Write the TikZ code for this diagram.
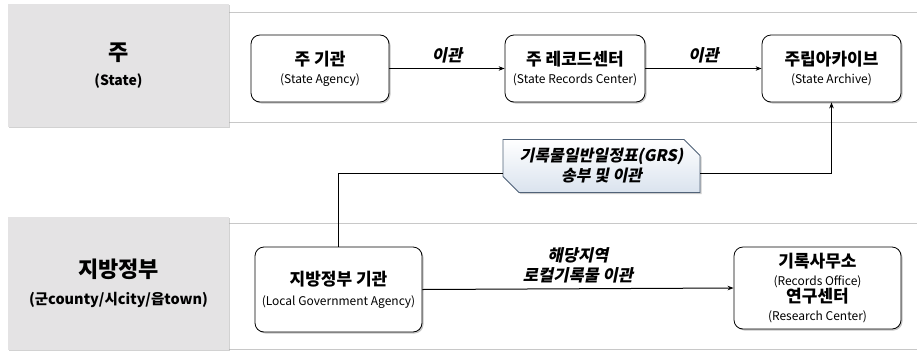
\documentclass[tikz,border=0pt]{standalone}
\usepackage{fontspec}
\setmainfont{Noto Sans CJK KR}
\newfontfamily\slfont{Noto Sans CJK KR}[FakeSlant=0.2]
\usetikzlibrary{shadows,shapes.misc,arrows.meta}
\definecolor{bandgray}{RGB}{228,227,228}
\definecolor{bandline}{RGB}{200,200,200}
\definecolor{grsborder}{RGB}{80,98,120}
\definecolor{grsfill}{RGB}{218,227,238}
\tikzset{
  graybox/.style={fill=bandgray, draw=none, align=center,
    drop shadow={shadow xshift=1.2pt, shadow yshift=-1.2pt, fill=black!35}},
  sepline/.style={draw=bandline, line width=0.8pt},
  agency/.style={draw=black, line width=0.8pt, fill=white, rounded corners=9pt,
    align=center, inner sep=2pt, font=\fontsize{12}{19}\selectfont,
    drop shadow={shadow xshift=1.5pt, shadow yshift=-1.5pt, fill=black!45}},
  grsbox/.style={chamfered rectangle, chamfered rectangle corners={north east,south west},
    chamfered rectangle xsep=7pt, chamfered rectangle ysep=9pt,
    draw=grsborder, line width=0.8pt, top color=white, bottom color=grsfill,
    align=center, inner sep=0pt, font=\slfont\bfseries\fontsize{16}{20}\selectfont,
    drop shadow={shadow xshift=1.5pt, shadow yshift=-1.5pt, fill=black!40}},
  flow/.style={draw=black, line width=1pt, -{Stealth[length=6pt,width=4.5pt]}},
  link/.style={draw=black, line width=1pt},
  lbl/.style={font=\slfont\bfseries\fontsize{16.5}{20}\selectfont, align=center},
}
\newcommand{\ttl}[1]{{\bfseries\fontsize{17}{19}\selectfont #1}}
\newcommand{\sub}[1]{{\fontsize{12}{14}\selectfont #1}}
\begin{document}
\begin{tikzpicture}[x=1pt,y=-1pt]
\useasboundingbox (0,0) rectangle (917,351);
% band lines
\draw[sepline] (229,12) -- (917,12);
\draw[sepline] (229,122) -- (917,122);
\draw[sepline] (229,223) -- (917,223);
\draw[sepline] (229,349) -- (917,349);
% gray band headers
\node[graybox, minimum width=221pt, minimum height=123pt, font=\bfseries\fontsize{14}{25}\selectfont] (state) at (118.5,65.5)
  {{\fontsize{22}{25}\selectfont 주}\\ (State)};
\node[graybox, minimum width=221pt, minimum height=133pt, font=\bfseries\fontsize{14.5}{27}\selectfont] (local) at (118.5,283.5)
  {{\fontsize{22}{25}\selectfont 지방정부}\\ (군county/시city/읍town)};
% nodes
\node[agency, minimum width=138pt, minimum height=67pt, font=\fontsize{12}{18}\selectfont] (sa) at (320,68.5)
  {\ttl{주 기관}\\ \sub{(State Agency)}};
\node[agency, minimum width=140pt, minimum height=67pt, font=\fontsize{12}{18}\selectfont] (src) at (575,68.5)
  {\ttl{주 레코드센터}\\ \sub{(State Records Center)}};
\node[agency, minimum width=139pt, minimum height=67pt, font=\fontsize{12}{18}\selectfont] (arch) at (831.5,68.5)
  {\ttl{주립아카이브}\\ \sub{(State Archive)}};
\node[grsbox, minimum width=197pt, minimum height=48pt] (grs) at (601.5,166)
  {기록물일반일정표(GRS)\\ 송부 및 이관};
\node[agency, minimum width=167pt, minimum height=85pt, font=\fontsize{12}{20}\selectfont] (lga) at (338.5,289.5)
  {\ttl{지방정부 기관}\\ \sub{(Local Government Agency)}};
\node[agency, minimum width=167pt, minimum height=82pt, font=\fontsize{12}{17.5}\selectfont] (ro) at (817.5,288)
  {\ttl{기록사무소}\\ \sub{(Records Office)}\\
   \ttl{연구센터}\\ \sub{(Research Center)}};
% connectors
\draw[flow] (sa) -- node[lbl, above=2pt] {이관} (src);
\draw[flow] (src) -- node[lbl, above=2pt] {이관} (arch);
\draw[link] (lga.north) |- ([yshift=-7pt]grs.west);
\draw[flow] ([yshift=-7pt]grs.east) -| (arch.south);
\draw[flow] (lga.east) -- node[lbl, above=2pt] {해당지역\\로컬기록물 이관} (ro.west);
\end{tikzpicture}
\end{document}
